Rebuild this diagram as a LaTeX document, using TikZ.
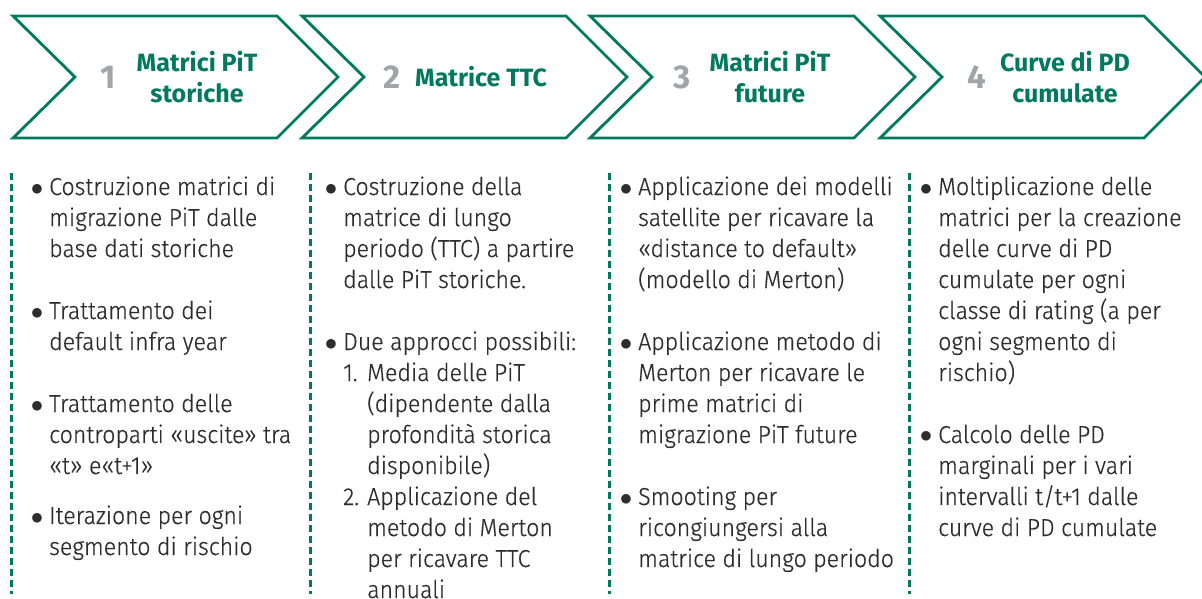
\documentclass[tikz,border=0pt]{standalone}
\usepackage{fontspec}
\setmainfont{Fira Sans}[UprightFont=* Light, BoldFont=* SemiBold, FakeStretch=0.945, FakeBold=0.5]
\newfontfamily\headfont{Fira Sans}[UprightFont=* Bold, BoldFont=* Bold]
\definecolor{stepgreen}{RGB}{0,122,94}
\definecolor{stepgray}{RGB}{160,165,169}
\definecolor{bodygray}{RGB}{45,45,45}
\newcommand{\bitem}{\llap{$\bullet$\hspace{6pt}}}
\newcommand{\subnum}[1]{\makebox[24pt][l]{#1}}

\begin{document}
\begin{tikzpicture}[x=1pt,y=-1pt]
  \tikzstyle{chevron}=[draw=stepgreen,line width=2.8pt]
  \tikzstyle{divider}=[draw=stepgreen,line width=3pt,dash pattern=on 7pt off 4pt]
  \tikzstyle{stepnum}=[text=stepgray,inner sep=0pt,font=\fontsize{33}{33}\selectfont\headfont]
  \tikzstyle{steptitle}=[text=stepgreen,inner sep=0pt,align=center,font=\fontsize{25}{31}\selectfont\headfont]
  \tikzstyle{stepbody}=[text=bodygray,inner sep=0pt,anchor=base west,font=\fontsize{24.5}{31}\selectfont]
  \useasboundingbox (0,0) rectangle (1202,599);
  \foreach \x in {13,302,590,880}
    \draw[chevron] (\x,16) -- ++(264,0) -- ++(61,61) -- ++(-61,61) -- ++(-264,0) -- ++(62,-61) -- cycle;
  \foreach \x in {11,310,609,909}
    \draw[divider] (\x,173) -- (\x,594);
  % headings
  \node[stepnum] (n1) at (108,77) {1};
  \node[steptitle] (t1) at (197,77) {Matrici PiT\\storiche};
  \node[stepnum] (n2) at (392,77) {2};
  \node[steptitle] (t2) at (481,77) {Matrice TTC};
  \node[stepnum] (n3) at (682,77) {3};
  \node[steptitle] (t3) at (770,77) {Matrici PiT\\future};
  \node[stepnum] (n4) at (977,77) {4};
  \node[steptitle] (t4) at (1065,77) {Curve di PD\\cumulate};
  % bullet lists
  \node[stepbody] (b1) at (49,195) {\begin{tabular}[t]{@{}l@{}}
    \bitem Costruzione matrici di\\
    migrazione PiT dalle\\
    base dati storiche\\[31pt]
    \bitem Trattamento dei\\
    default infra year\\[31pt]
    \bitem Trattamento delle\\
    controparti «uscite» tra\\
    «t» e«t+1»\\[19pt]
    \bitem Iterazione per ogni\\
    segmento di rischio
  \end{tabular}};
  \node[stepbody] (b2) at (343,195) {\begin{tabular}[t]{@{}l@{}}
    \bitem Costruzione della\\
    matrice di lungo\\
    periodo (TTC) a partire\\
    dalle PiT storiche.\\[31pt]
    \bitem Due approcci possibili:\\
    \subnum{1.}Media delle PiT\\
    \subnum{}(dipendente dalla\\
    \subnum{}profondità storica\\
    \subnum{}disponibile)\\
    \subnum{2.}Applicazione del\\
    \subnum{}metodo di Merton\\
    \subnum{}per ricavare TTC\\
    \subnum{}annuali
  \end{tabular}};
  \node[stepbody] (b3) at (638,195) {\begin{tabular}[t]{@{}l@{}}
    \bitem Applicazione dei modelli\\
    satellite per ricavare la\\
    «distance to default»\\
    (modello di Merton)\\[31pt]
    \bitem Applicazione metodo di\\
    Merton per ricavare le\\
    prime matrici di\\
    migrazione PiT future\\[31pt]
    \bitem Smooting per\\
    ricongiungersi alla\\
    matrice di lungo periodo
  \end{tabular}};
  \node[stepbody] (b4) at (938,195) {\begin{tabular}[t]{@{}l@{}}
    \bitem Moltiplicazione delle\\
    matrici per la creazione\\
    delle curve di PD\\
    cumulate per ogni\\
    classe di rating (a per\\
    ogni segmento di\\
    rischio)\\[31pt]
    \bitem Calcolo delle PD\\
    marginali per i vari\\
    intervalli t/t+1 dalle\\
    curve di PD cumulate
  \end{tabular}};
\end{tikzpicture}
\end{document}
